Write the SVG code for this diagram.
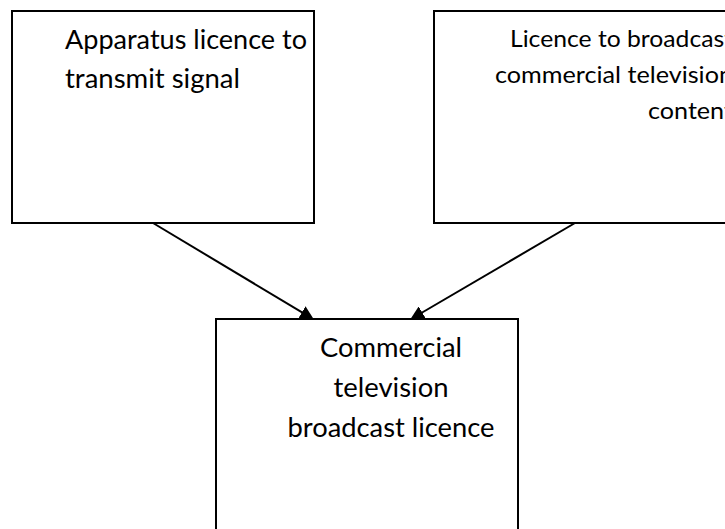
<svg xmlns="http://www.w3.org/2000/svg" width="725" height="529" viewBox="0 0 725 529">
<defs>
<style>
.box{fill:#ffffff;stroke:#000000;stroke-width:2}
.t{font-family:Lato,"Liberation Sans",sans-serif;fill:#000000}
.big{font-size:26.5px}
.small{font-size:24px}
.edge{stroke:#000000;stroke-width:2;fill:none}
</style>
<marker id="arr" markerUnits="userSpaceOnUse" markerWidth="14" markerHeight="14" viewBox="0 0 14 14" refX="7" refY="7" orient="auto">
<path d="M0,0 L14,7 L0,14 z" fill="#000000"/>
</marker>
</defs>
<rect width="725" height="529" fill="#ffffff"/>
<g id="node-apparatus">
<rect class="box" x="12" y="11" width="302" height="212"/>
<text class="t big" x="65" y="49" textLength="242" lengthAdjust="spacingAndGlyphs">Apparatus licence to</text>
<text class="t big" x="65" y="88" textLength="175" lengthAdjust="spacingAndGlyphs">transmit signal</text>
</g>
<g id="node-content">
<rect class="box" x="434" y="11" width="302" height="212"/>
<text class="t small" x="510" y="47" textLength="223" lengthAdjust="spacingAndGlyphs">Licence to broadcast</text>
<text class="t small" x="495" y="83" textLength="238" lengthAdjust="spacingAndGlyphs">commercial television</text>
<text class="t small" x="648" y="119" textLength="85" lengthAdjust="spacingAndGlyphs">content</text>
</g>
<g id="node-commercial">
<rect class="box" x="216" y="319" width="302" height="222"/>
<text class="t big" x="391" y="357" text-anchor="middle" textLength="142" lengthAdjust="spacingAndGlyphs">Commercial</text>
<text class="t big" x="391" y="397" text-anchor="middle" textLength="115" lengthAdjust="spacingAndGlyphs">television</text>
<text class="t big" x="391" y="437" text-anchor="middle" textLength="207" lengthAdjust="spacingAndGlyphs">broadcast licence</text>
</g>
<g id="connectors">
<path class="edge" d="M153,223 L307.9,315.9" marker-end="url(#arr)"/>
<path class="edge" d="M575,223 L416.2,316" marker-end="url(#arr)"/>
</g>
</svg>
